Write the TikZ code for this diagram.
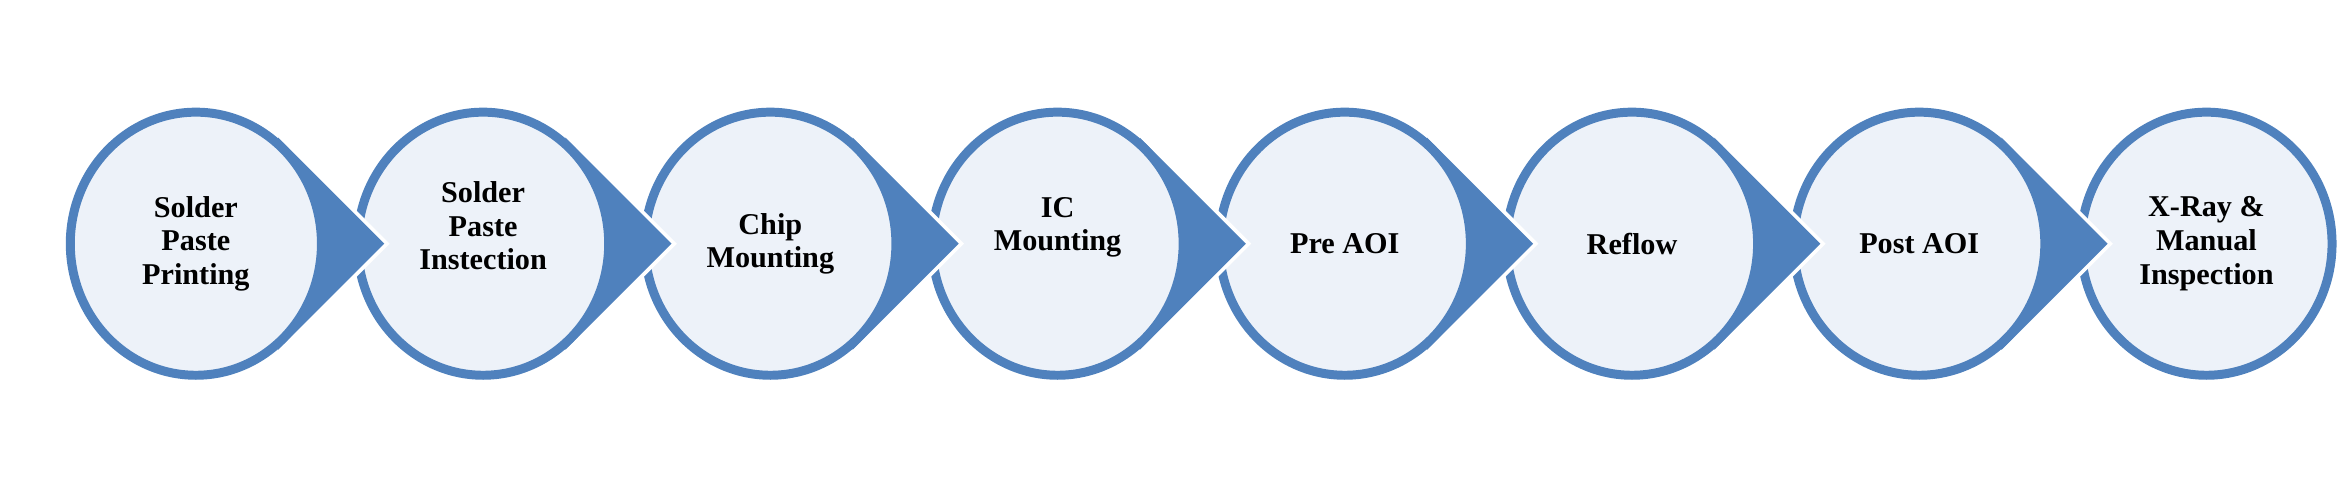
\documentclass[tikz,border=0pt]{standalone}
\usepackage{fontspec}
\setmainfont{Liberation Serif}
\definecolor{bl}{HTML}{4F81BD}
\definecolor{lf}{HTML}{EDF2F9}
\begin{document}
\begin{tikzpicture}[x=0.02cm,y=-0.02cm,
  circ/.style={ellipse,draw=bl,fill=lf,line width=0.12cm,minimum width=3.36cm,minimum height=3.52cm,inner sep=0pt},
  lab/.style={font=\bfseries\fontsize{11.5}{12.8}\selectfont,align=center},
  arr/.style={fill=bl}]
\usetikzlibrary{shapes.geometric}
\useasboundingbox (0,0) rectangle (1563,324);
\foreach \i/\t/\dy in {8/{X-Ray \&\\Manual\\Inspection}/0,7/{Post AOI}/0,6/{Reflow}/0,5/{Pre AOI}/0,4/{IC\\Mounting}/-11,3/{Chip\\Mounting}/0,2/{Solder\\Paste\\Instection}/-12,1/{Solder\\Paste\\Printing}/0}{
  \pgfmathsetmacro\cx{131+192.1*(\i-1)}
  \ifnum\i<8
    \coordinate (u\i) at (\cx+55,92);
    \coordinate (t\i) at (\cx+126,163);
    \coordinate (d\i) at (\cx+55,234);
    \draw[white,line width=0.1cm,line join=miter] (u\i) -- (t\i) -- (d\i);
    \fill[arr] (u\i) -- (t\i) -- (d\i) -- cycle;
  \fi
  \node[circ] (c\i) at (\cx,163) {};
  \node[lab] (l\i) at (\cx,163+\dy) {\t};
}
\end{tikzpicture}
\end{document}
